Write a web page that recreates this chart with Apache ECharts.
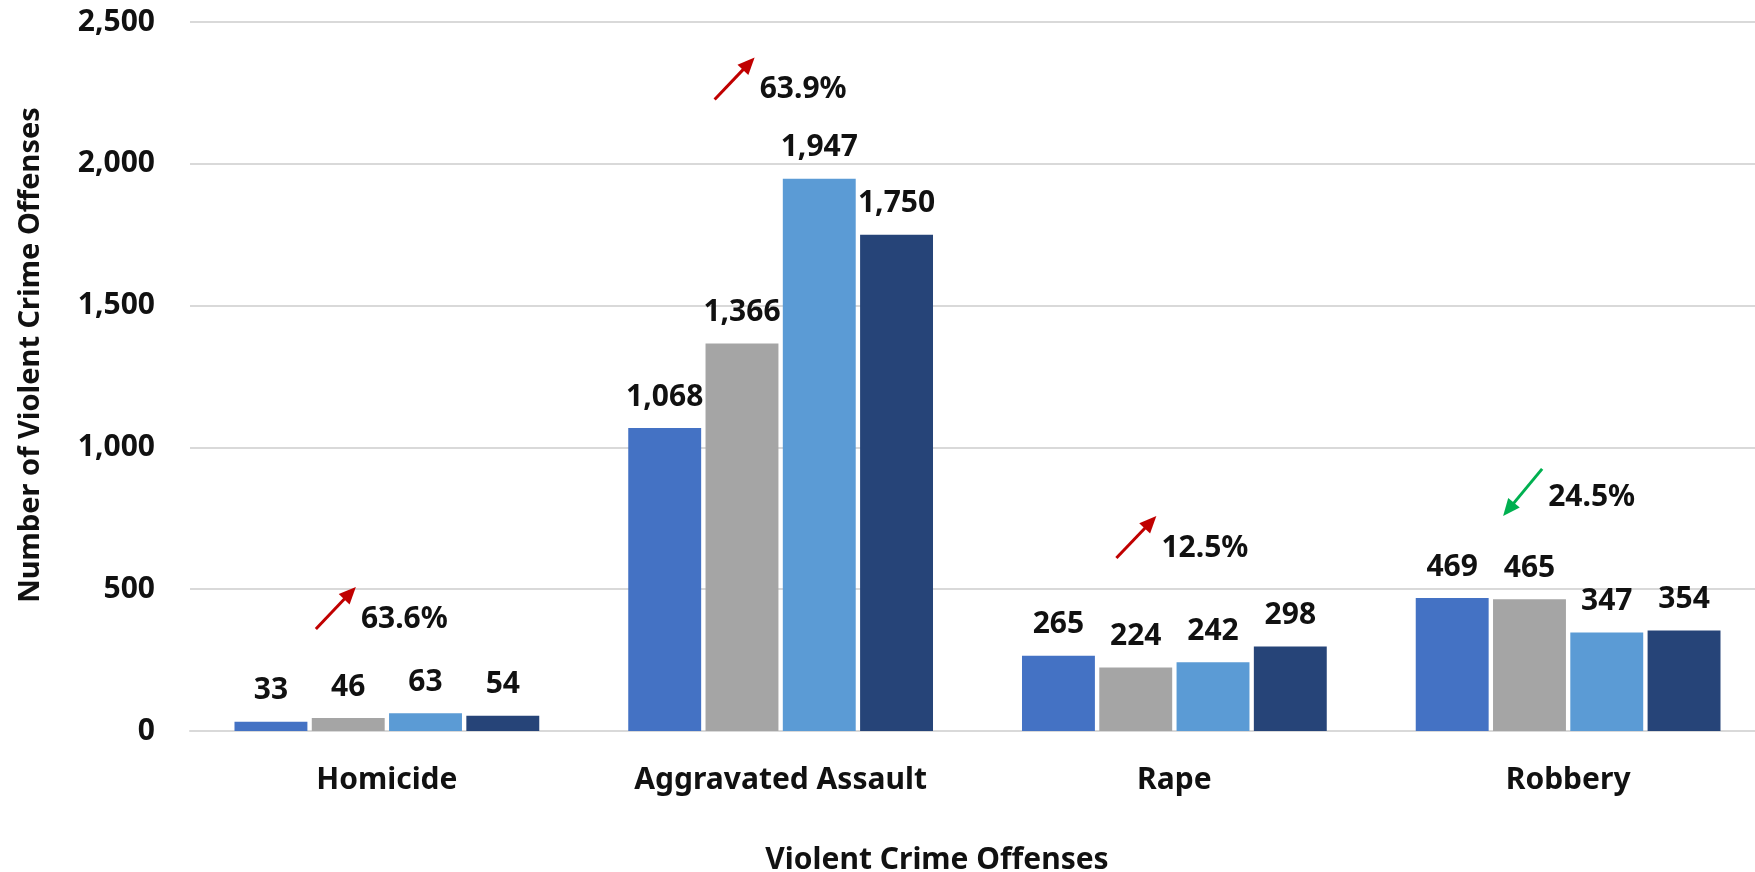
<!DOCTYPE html>
<html>
<head>
<meta charset="utf-8">
<title>Violent Crime Offenses</title>
<script src="https://cdn.jsdelivr.net/npm/echarts@6.0.0/dist/echarts.min.js"></script>
<style>
  html, body { margin: 0; padding: 0; background: #ffffff; }
  #chart { width: 1755px; height: 872px; }
</style>
</head>
<body>
<div id="chart"></div>
<script>
// Offense categories on the x axis
const categories = ['Homicide', 'Aggravated Assault', 'Rape', 'Robbery'];

// One series per reporting period
const period1 = [33, 1068, 265, 469];
const period2 = [46, 1366, 224, 465];
const period3 = [63, 1947, 242, 347];
const period4 = [54, 1750, 298, 354];

// Value axis ticks
const yTicks = [0, 500, 1000, 1500, 2000, 2500];

// Change annotations per category
const changeText = ['63.6%', '63.9%', '12.5%', '24.5%'];
const changeDir = ['up', 'up', 'up', 'down'];

const seriesNames = ['Period 1', 'Period 2', 'Period 3', 'Period 4'];
const seriesValues = [period1, period2, period3, period4];
const seriesColors = ['#4472C4', '#A5A5A5', '#5B9BD5', '#264478'];

const FONT = '"Noto Sans", "Open Sans", sans-serif';
const fmt = v => Number(v).toLocaleString('en-US');

const chart = echarts.init(document.getElementById('chart'), null, { renderer: 'canvas' });

const series = seriesValues.map((vals, i) => ({
  name: seriesNames[i],
  type: 'bar',
  data: vals,
  barGap: '6%',
  barCategoryGap: '22.6%',
  itemStyle: { color: seriesColors[i] },
  label: {
    show: true,
    position: 'top',
    distance: 16,
    formatter: p => fmt(p.value),
    fontFamily: FONT,
    fontWeight: 'bold',
    fontSize: 30,
    lineHeight: 30,
    color: '#111111'
  }
}));

chart.setOption({
  backgroundColor: '#ffffff',
  animation: false,
  // the plot area runs slightly past the right edge of the canvas
  grid: {
    left: 190, top: 22, width: 1575, height: 709,
    containLabel: false,
    outerBoundsMode: 'none'
  },
  xAxis: {
    type: 'category',
    data: categories,
    axisLine: { show: true, lineStyle: { color: '#D9D9D9', width: 2 } },
    axisTick: { show: false },
    axisLabel: {
      margin: 34,
      fontFamily: FONT,
      fontWeight: 'bold',
      fontSize: 30,
      lineHeight: 30,
      color: '#111111'
    }
  },
  yAxis: {
    type: 'value',
    min: yTicks[0],
    max: yTicks[yTicks.length - 1],
    interval: yTicks[1] - yTicks[0],
    axisLine: { show: false },
    axisTick: { show: false },
    splitLine: { show: true, lineStyle: { color: '#D9D9D9', width: 2 } },
    axisLabel: {
      margin: 35,
      formatter: v => fmt(v),
      fontFamily: FONT,
      fontWeight: 'bold',
      fontSize: 30,
      color: '#111111'
    }
  },
  series: series
});

// Axis titles and change annotations, placed from the chart's own coordinate system
function buildGraphics() {
  const els = [];

  els.push({
    type: 'text',
    x: 937, y: 860,
    style: {
      text: 'Violent Crime Offenses',
      fontFamily: FONT, fontWeight: 'bold', fontSize: 30,
      fill: '#111111', align: 'center', verticalAlign: 'middle'
    }
  });
  els.push({
    type: 'text',
    x: 31, y: 355,
    rotation: Math.PI / 2,
    style: {
      text: 'Number of Violent Crime Offenses',
      fontFamily: FONT, fontWeight: 'bold', fontSize: 29,
      fill: '#111111', align: 'center', verticalAlign: 'middle'
    }
  });

  // text anchor: offset from category centre (px) and height in data units
  const textDx = [-26, -21, -13, -20];
  const textAt = [395, 2262, 645, 822];

  changeText.forEach((txt, i) => {
    const p = chart.convertToPixel({ seriesIndex: 0 }, [i, textAt[i]]);
    const cx = chart.convertToPixel({ xAxisIndex: 0 }, i);
    const tx = cx + textDx[i];
    const ty = p[1];
    const up = changeDir[i] === 'up';
    const color = up ? '#C00000' : '#00B050';
    const tail = up ? [tx - 45, ty + 10] : [tx - 6, ty - 29];
    const tip = up ? [tx - 5, ty - 32] : [tx - 45, ty + 18];

    const dx = tip[0] - tail[0], dy = tip[1] - tail[1];
    const len = Math.hypot(dx, dy);
    const ux = dx / len, uy = dy / len;
    const nx = -uy, ny = ux;
    const L = 17, W = 7.5;
    const base = [tip[0] - ux * L, tip[1] - uy * L];

    els.push({
      type: 'line',
      shape: { x1: tail[0], y1: tail[1], x2: base[0] + ux * 2, y2: base[1] + uy * 2 },
      style: { stroke: color, lineWidth: 3 }
    });
    els.push({
      type: 'polygon',
      shape: { points: [tip, [base[0] + nx * W, base[1] + ny * W], [base[0] - nx * W, base[1] - ny * W]] },
      style: { fill: color }
    });
    els.push({
      type: 'text',
      x: tx, y: ty,
      style: {
        text: txt,
        fontFamily: FONT, fontWeight: 'bold', fontSize: 30,
        fill: '#111111', align: 'left', verticalAlign: 'middle'
      }
    });
  });

  chart.setOption({ graphic: els });
}

buildGraphics();
</script>
</body>
</html>
